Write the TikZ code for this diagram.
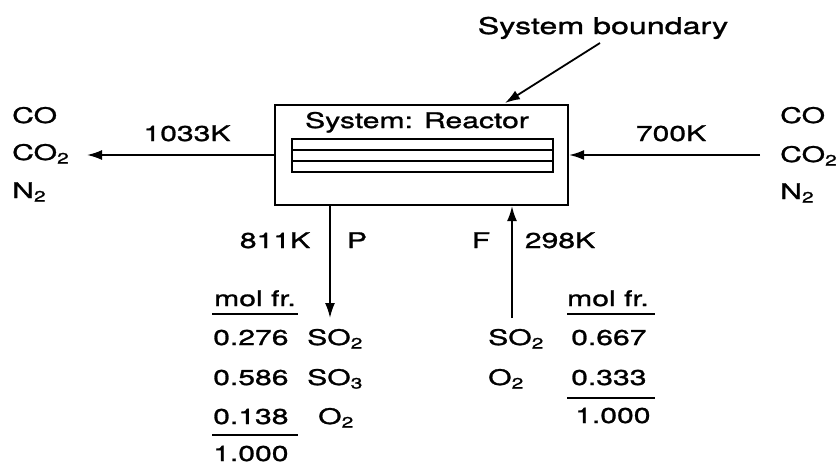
\documentclass[tikz,border=0pt]{standalone}
\usepackage{fontspec}
\setmainfont{TeX Gyre Heros}[FakeStretch=1.4,FakeBold=1.2]
\usetikzlibrary{arrows.meta}
\begin{document}
\begin{tikzpicture}[x=1pt,y=-1pt,
  every node/.style={inner sep=0pt,font=\fontsize{21.5}{26}\selectfont},
  lbl/.style={anchor=base west},
  ctr/.style={anchor=base},
  rule/.style={line width=2.2pt},
  arr/.style={line width=1.8pt,-{Latex[length=15pt,width=10pt]}}]
\useasboundingbox (0,0) rectangle (838,464);
% reactor box and tube
\node[draw,line width=2.2pt,minimum width=293pt,minimum height=100pt] (box) at (421.5,155) {};
\node[draw,line width=2pt,minimum width=261pt,minimum height=33pt] (tube) at (422.5,155.5) {};
\draw[line width=2pt] (tube.west |- 0,150) -- (tube.east |- 0,150);
\draw[line width=2pt] (tube.west |- 0,161) -- (tube.east |- 0,161);
\node[ctr] (reactor) at (417,128) {System: Reactor};
% system boundary
\node[ctr,font=\fontsize{23}{27}\selectfont] (sb) at (603,34) {System boundary};
\coordinate (sbs) at (600,43);
\coordinate (sbe) at (505,103);
\draw[arr] (sbs) -- (sbe);
% left outlet
\coordinate (lout) at (87,155);
\draw[arr] (box.west) -- (lout);
\node[ctr] (t1033) at (187,141) {1033K};
\node[lbl] (lco) at (12,123) {CO};
\node[lbl] (lco2) at (12,160) {CO\textsubscript{2}};
\node[lbl] (ln2) at (12,198) {N\textsubscript{2}};
% right inlet
\coordinate (rin) at (760,155);
\draw[arr] (rin) -- (box.east);
\node[ctr] (t700) at (671,141) {700K};
\node[lbl] (rco) at (780,123) {CO};
\node[lbl] (rco2) at (780,162) {CO\textsubscript{2}};
\node[lbl] (rn2) at (780,199) {N\textsubscript{2}};
% product stream P
\coordinate (pend) at (330,318);
\draw[arr] (box.south -| pend) -- (pend);
\node[ctr] (t811) at (275,248) {811K};
\node[ctr] (tp) at (357,248) {P};
% feed stream F
\coordinate (fstart) at (512,318);
\draw[arr] (fstart) -- (box.south -| fstart);
\node[ctr] (tf) at (481,248) {F};
\node[ctr] (t298) at (560,248) {298K};
% product table
\node[lbl] (pmol) at (214,306) {mol fr.};
\draw[rule] (212,314) -- (298,314);
\node[lbl] (p1) at (213,345) {0.276};
\node[lbl] (p1s) at (307,345) {SO\textsubscript{2}};
\node[lbl] (p2) at (213,385) {0.586};
\node[lbl] (p2s) at (307,385) {SO\textsubscript{3}};
\node[lbl] (p3) at (213,424) {0.138};
\node[lbl] (p3s) at (318,424) {O\textsubscript{2}};
\draw[rule] (212,435) -- (298,435);
\node[lbl] (ptot) at (213,461) {1.000};
% feed table
\node[lbl] (fmol) at (567,306) {mol fr.};
\draw[rule] (567,314) -- (655,314);
\node[lbl] (f1s) at (488,345) {SO\textsubscript{2}};
\node[lbl] (f1) at (571,345) {0.667};
\node[lbl] (f2s) at (488,385) {O\textsubscript{2}};
\node[lbl] (f2) at (571,385) {0.333};
\draw[rule] (567,398) -- (655,398);
\node[lbl] (ftot) at (575,423) {1.000};
\end{tikzpicture}
\end{document}
